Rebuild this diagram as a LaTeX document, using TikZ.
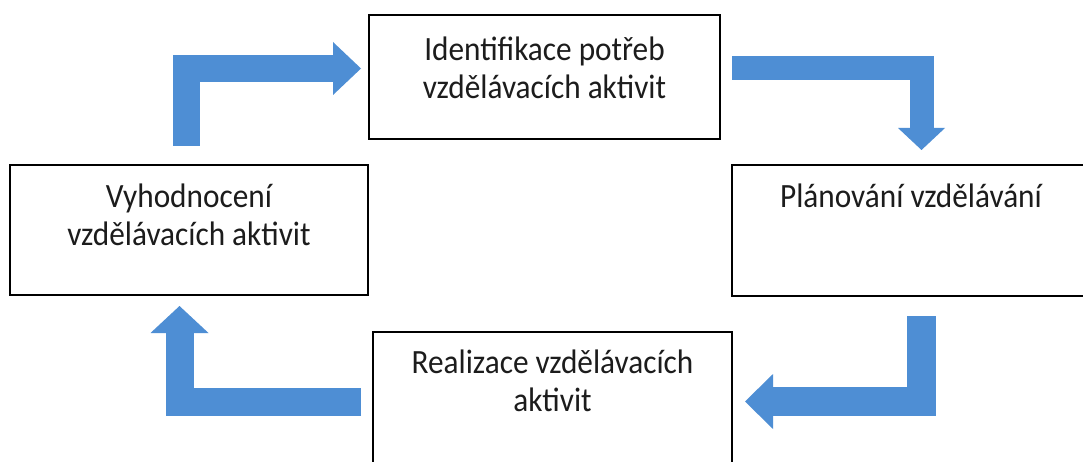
\documentclass[tikz,border=0pt]{standalone}
\usepackage{fontspec}
\setmainfont{Carlito}
\usetikzlibrary{arrows.meta}
\definecolor{arrowblue}{RGB}{78,142,212}
\definecolor{txtgray}{RGB}{28,28,28}
\newcommand{\boxtext}[1]{\scalebox{0.92}[1]{\begin{tabular}[t]{@{}c@{}}#1\end{tabular}}}
\tikzset{
  box/.style={draw=black, line width=2.6pt, fill=white, rectangle, outer sep=0pt, inner sep=0pt, anchor=north west},
  lbl/.style={anchor=base, inner sep=0pt, text=txtgray, font=\fontsize{34}{38}\selectfont},
  flow/.style={draw=arrowblue, line join=miter, line cap=butt},
  headtip/.style n args={2}{-{Triangle[length=#1,width=#2,line width=0pt]}}
}
\begin{document}
\begin{tikzpicture}[x=1pt,y=-1pt]
\useasboundingbox (0,0) rectangle (1083,462);
\clip (0,0) rectangle (1083,462);
\fill[white] (0,0) rectangle (1083,462);
% boxes
\node[box, minimum width=351pt, minimum height=124pt] (id) at (369,15) {};
\node[box, minimum width=358pt, minimum height=130pt] (vy) at (10,165) {};
\node[box, minimum width=358pt, minimum height=131pt] (pl) at (732,165) {};
\node[box, minimum width=359pt, minimum height=150pt] (re) at (373,332) {};
% texts
\node[lbl] (idt) at (544.5,61) {\boxtext{Identifikace potřeb\\vzdělávacích aktivit}};
\node[lbl] (vyt) at (189,208) {\boxtext{Vyhodnocení\\vzdělávacích aktivit}};
\node[lbl] (plt) at (911,208) {\boxtext{Plánování vzdělávání}};
\node[lbl] (ret) at (552.5,373) {\boxtext{Realizace vzdělávacích\\aktivit}};
% arrows
\draw[flow, line width=27pt, headtip={28pt}{53pt}]
  ([xshift=-2.5pt, yshift=19pt]vy.north) |- ([xshift=-8pt, yshift=8.5pt]id.west);
\draw[flow, line width=24pt, headtip={22pt}{47pt}]
  ([xshift=12pt, yshift=8.5pt]id.east) -| ([xshift=10.5pt, yshift=15pt]pl.north);
\draw[flow, line width=29pt, headtip={28pt}{55pt}]
  ([xshift=10.5pt, yshift=-20pt]pl.south) |- ([xshift=13pt, yshift=5.5pt]re.east);
\draw[flow, line width=28pt, headtip={27pt}{58pt}]
  ([xshift=-12pt, yshift=5.5pt]re.west) -| ([xshift=-9.5pt, yshift=-11pt]vy.south);
\end{tikzpicture}
\end{document}
